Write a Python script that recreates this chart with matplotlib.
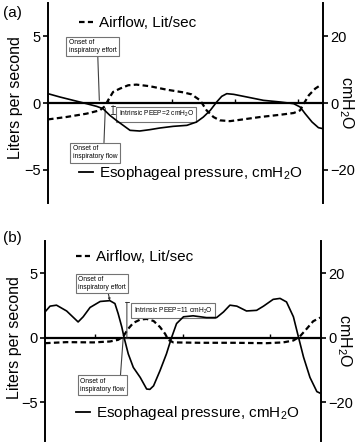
import numpy as np
import matplotlib
matplotlib.use("Agg")
import matplotlib.pyplot as plt
from matplotlib.lines import Line2D

plt.rcParams['font.family'] = ['Liberation Sans', 'DejaVu Sans']
plt.rcParams['mathtext.fontset'] = 'custom'
plt.rcParams['mathtext.rm'] = 'Liberation Sans'

# ---- data (time in s, airflow in L/s, pressure in cmH2O) ----
a_flow_t = [0.00, 0.40, 0.84, 1.13, 1.24, 1.31, 1.42, 1.57, 1.75, 1.93, 2.22, 2.59, 2.95,
            3.13, 3.32, 3.46, 3.61, 3.75, 3.97, 4.19, 4.63, 5.07, 5.36, 5.50, 5.58, 5.69,
            5.83, 5.94]
a_flow = [-1.23, -1.05, -0.80, -0.55, -0.25, 0.20, 0.83, 1.08, 1.33, 1.38, 1.26, 1.00, 0.80,
          0.65, 0.20, -0.55, -1.05, -1.30, -1.36, -1.26, -1.05, -0.88, -0.75, -0.55, -0.05,
          0.58, 1.08, 1.33]
a_pes_t = [0.00, 0.26, 0.55, 0.84, 1.06, 1.20, 1.35, 1.49, 1.64, 1.79, 2.00, 2.22, 2.44,
           2.73, 3.03, 3.24, 3.39, 3.54, 3.68, 3.79, 3.90, 4.05, 4.34, 4.70, 5.07, 5.36,
           5.50, 5.61, 5.76, 5.90, 6.00]
a_pes = [2.8, 1.8, 0.8, -0.2, -1.0, -1.7, -3.7, -5.2, -6.7, -8.2, -8.4, -8.0, -7.5,
         -7.0, -6.7, -5.7, -4.2, -2.2, 0.3, 2.0, 2.8, 2.6, 1.8, 0.8, 0.3, -0.2,
         -1.2, -3.2, -5.7, -7.4, -7.7]

b_flow_t = [0.00, 0.47, 1.05, 1.41, 1.59, 1.70, 1.81, 1.92, 2.07, 2.21, 2.36, 2.50, 2.61,
            2.68, 2.79, 3.37, 4.09, 4.82, 5.18, 5.40, 5.54, 5.69, 5.83, 5.98]
b_flow = [-0.42, -0.34, -0.36, -0.29, -0.16, 0.10, 0.70, 1.15, 1.41, 1.46, 1.30, 0.83, 0.31,
          -0.16, -0.36, -0.39, -0.39, -0.42, -0.36, -0.21, 0.10, 0.70, 1.28, 1.56]
b_pes_t = [0.00, 0.11, 0.25, 0.47, 0.72, 0.83, 0.98, 1.20, 1.41, 1.52, 1.59, 1.67, 1.72,
           1.81, 1.92, 2.07, 2.21, 2.28, 2.36, 2.50, 2.64, 2.75, 2.86, 3.01, 3.22, 3.51,
           3.73, 3.88, 4.02, 4.17, 4.38, 4.60, 4.75, 4.96, 5.11, 5.25, 5.40, 5.51, 5.62,
           5.76, 5.91, 6.00]
b_pes = [8.0, 9.8, 10.1, 8.3, 4.9, 6.5, 9.4, 11.25, 11.5, 10.6, 7.5, 3.3, 0.0,
         -5.0, -9.2, -12.3, -15.9, -16.0, -14.9, -10.2, -5.0, 0.0, 4.4, 6.5, 6.8, 6.25,
         6.25, 8.0, 10.1, 9.8, 8.3, 8.5, 9.8, 11.9, 12.2, 11.1, 6.5, 0.2, -6.0,
         -12.3, -16.7, -17.3]

left_ticks = [-5, 0, 5]
right_ticks = [-20, 0, 20]
a_xticks = [1.32, 2.70, 4.08, 5.46]
b_xticks = [1.09, 2.99, 4.89]

box_style = dict(boxstyle='square,pad=0.35', fc='white', ec='0.45', lw=0.8)
arrow_style = dict(arrowstyle='-', color='0.25', lw=0.8, shrinkA=0, shrinkB=0)


def setup(ax, ylim, xticks, lab_x, lab_y):
    ax2 = ax.twinx()
    ax.set_xlim(0, 6)
    ax.set_ylim(*ylim)
    ax2.set_ylim(ylim[0] * 4, ylim[1] * 4)
    for a in (ax, ax2):
        a.spines['top'].set_visible(False)
        a.spines['left'].set_linewidth(1.4)
        a.spines['right'].set_linewidth(1.4)
    ax2.spines['bottom'].set_visible(False)
    ax.spines['right'].set_visible(False)
    ax2.spines['left'].set_visible(False)
    ax.spines['bottom'].set_position(('data', 0))
    ax.spines['bottom'].set_linewidth(1.6)
    ax.set_xticks(xticks)
    ax.tick_params(axis='x', direction='in', length=3, width=1, labelbottom=False)
    ax.set_yticks(left_ticks)
    ax2.set_yticks(right_ticks)
    ax.tick_params(axis='y', length=3.5, width=1.2, labelsize=10.5, pad=1.5)
    ax2.tick_params(axis='y', length=3.5, width=1.2, labelsize=10.5, pad=1.5)
    ax.set_ylabel('Liters per second', fontsize=11.5)
    ax.yaxis.set_label_coords(lab_x, lab_y)
    ax2.set_ylabel('cmH$_\\mathregular{2}$O', fontsize=11.5, rotation=270, va='center')
    ax2.yaxis.set_label_coords(1.085, 0.5)
    return ax2


def legends(ax2, y_top, y_bot):
    h1 = Line2D([], [], color='black', lw=1.6, dashes=(2.5, 1.5))
    h2 = Line2D([], [], color='black', lw=1.3)
    kw = dict(frameon=False, loc='center left', fontsize=11, handlelength=0.9,
              handletextpad=0.4, borderpad=0, borderaxespad=0)
    l1 = ax2.legend([h1], ['Airflow, Lit/sec'], bbox_to_anchor=(0.112, y_top), **kw)
    ax2.add_artist(l1)
    ax2.legend([h2], ['Esophageal pressure, cmH$_\\mathregular{2}$O'],
               bbox_to_anchor=(0.112, y_bot), **kw)


fig = plt.figure(figsize=(3.6, 4.42), dpi=100)

# ---- panel (a) ----
ax = fig.add_axes([0.1333, 0.5407, 0.764, 0.4525])
ax2 = setup(ax, (-7.5, 7.5), a_xticks, -0.09, 0.525)
ax.plot(a_flow_t, a_flow, color='black', lw=1.6, dashes=(2.5, 1.5))
ax2.plot(a_pes_t, a_pes, color='black', lw=1.2)
legends(ax2, 0.9, 0.15)
ax.annotate('Onset of\ninspiratory effort', xy=(1.12, 0.2), xytext=(0.97, 4.23),
            ha='center', va='center', fontsize=4.8, multialignment='left',
            bbox=box_style, arrowprops=dict(relpos=(0.61, 0), **arrow_style))
ax.annotate('Onset of\ninspiratory flow', xy=(1.25, -0.4), xytext=(1.025, -3.74),
            ha='center', va='center', fontsize=4.8, multialignment='left',
            bbox=box_style, arrowprops=dict(relpos=(0.7, 1), **arrow_style))
ax.text(2.36, -0.85, 'Intrinsic PEEP=2 cmH$_\\mathregular{2}$O', ha='center', va='center',
        fontsize=4.8, bbox=box_style)
ax2.annotate('', xy=(1.42, -0.8), xytext=(1.42, -3.2),
             arrowprops=dict(arrowstyle='|-|,widthA=0.12,widthB=0.12', color='0.2', lw=0.7,
                             shrinkA=0, shrinkB=0))

# ---- panel (b) ----
bx = fig.add_axes([0.125, 0.0023, 0.7667, 0.4525])
bx2 = setup(bx, (-8, 7.5), b_xticks, -0.083, 0.515)
bx.plot(b_flow_t, b_flow, color='black', lw=1.6, dashes=(2.5, 1.5))
bx2.plot(b_pes_t, b_pes, color='black', lw=1.2)
legends(bx2, 0.92, 0.14)
bx.annotate('Onset of\ninspiratory effort', xy=(1.41, 2.87), xytext=(1.24, 4.2),
            ha='center', va='center', fontsize=4.8, multialignment='left',
            bbox=box_style,
            arrowprops=dict(relpos=(0.62, 0), arrowstyle='-|>,head_length=0.25,head_width=0.12',
                            color='0.2', lw=0.8, shrinkA=0, shrinkB=0))
bx.annotate('Onset of\ninspiratory flow', xy=(1.70, 0.0), xytext=(1.25, -3.67),
            ha='center', va='center', fontsize=4.8, multialignment='left',
            bbox=box_style, arrowprops=dict(relpos=(0.9, 1), **arrow_style))
bx.text(2.78, 2.1, 'Intrinsic PEEP=11 cmH$_\\mathregular{2}$O', ha='center', va='center',
        fontsize=4.8, bbox=box_style)
bx2.annotate('', xy=(1.78, 11.0), xytext=(1.78, 0.0),
             arrowprops=dict(arrowstyle='|-|,widthA=0.12,widthB=0.12', color='0.2', lw=0.7,
                             shrinkA=0, shrinkB=0))

fig.text(12 / 360, 1 - 13 / 442, '(a)', ha='center', va='center', fontsize=11)
fig.text(12 / 360, 1 - 238 / 442, '(b)', ha='center', va='center', fontsize=11)

fig.savefig('out.png', dpi=100)
